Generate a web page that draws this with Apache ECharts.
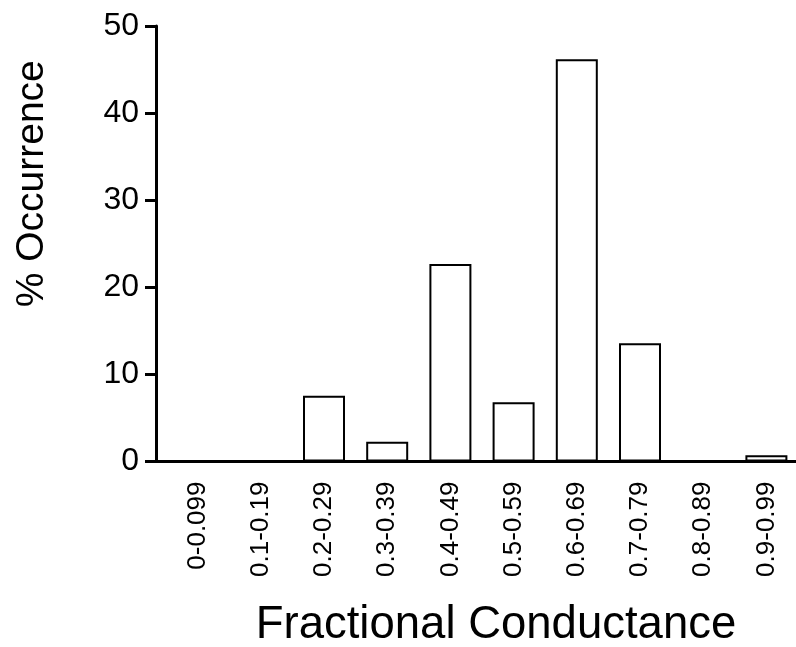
<!DOCTYPE html>
<html>
<head>
<meta charset="utf-8">
<script src="https://cdn.jsdelivr.net/npm/echarts@6/dist/echarts.min.js"></script>
<style>
  html, body { margin: 0; padding: 0; background: #fff; }
  #main { width: 796px; height: 647px; }
</style>
</head>
<body>
<div id="main"></div>
<script>
var categories = ['0-0.099', '0.1-0.19', '0.2-0.29', '0.3-0.39', '0.4-0.49',
                  '0.5-0.59', '0.6-0.69', '0.7-0.79', '0.8-0.89', '0.9-0.99'];
var occurrence = [0, 0, 7.55, 2.27, 22.67, 6.8, 46.18, 13.57, 0, 0.71];
var yTicks = { min: 0, max: 50, interval: 10 };

var chart = echarts.init(document.getElementById('main'));
var font = 'Liberation Sans, Arial, Helvetica, sans-serif';

var option = {
    animation: false,
    backgroundColor: '#fff',
    grid: { left: 166, right: -2, top: 26, bottom: 185.5, containLabel: false, outerBoundsMode: 'none' },
    xAxis: {
        type: 'category',
        data: categories,
        name: 'Fractional Conductance',
        nameLocation: 'middle',
        nameGap: 141,
        nameTextStyle: { fontSize: 45.5, color: '#000', fontFamily: font, padding: [0, 0, 0, 28] },
        axisLine: { lineStyle: { color: '#000', width: 3 } },
        axisTick: { show: false },
        axisLabel: { rotate: 90, fontSize: 26, color: '#000', fontFamily: font, margin: 20, interval: 0 }
    },
    yAxis: {
        type: 'value',
        min: yTicks.min,
        max: yTicks.max,
        interval: yTicks.interval,
        offset: 10,
        name: '% Occurrence',
        nameLocation: 'middle',
        nameGap: 104,
        nameTextStyle: { fontSize: 39, color: '#000', fontFamily: font, padding: [0, 0, 0, 120] },
        axisLine: { show: true, lineStyle: { color: '#000', width: 3 } },
        axisTick: { show: true, length: 11, lineStyle: { color: '#000', width: 3 } },
        axisLabel: { fontSize: 32, color: '#000', fontFamily: font, margin: 17 },
        splitLine: { show: false }
    },
    series: [{
        type: 'bar',
        data: occurrence,
        barWidth: 42,
        itemStyle: { color: '#fff', borderColor: '#000', borderWidth: 2 }
    }]
};
chart.setOption(option);

// join the offset y axis to the x axis line
var y0 = chart.convertToPixel({ yAxisIndex: 0 }, 0);
var gridLeft = option.grid.left;
chart.setOption({
    graphic: [{
        type: 'line',
        shape: { x1: gridLeft - option.yAxis.offset - option.yAxis.axisTick.length, y1: y0, x2: gridLeft, y2: y0 },
        style: { stroke: '#000', lineWidth: 3 }
    }]
});
</script>
</body>
</html>
